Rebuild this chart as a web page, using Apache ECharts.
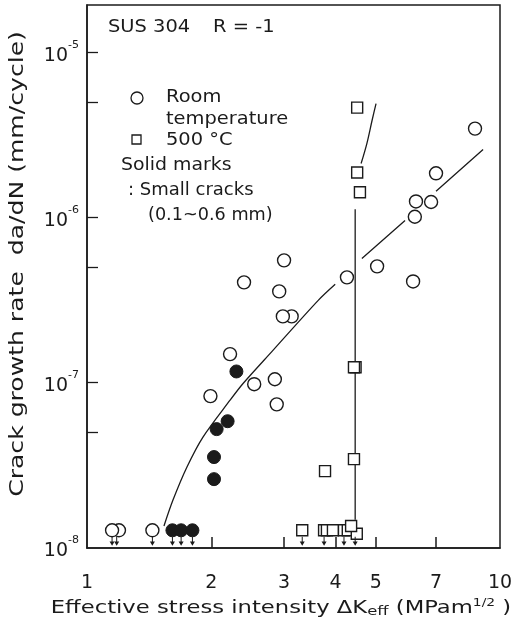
<!DOCTYPE html>
<html>
<head>
<meta charset="utf-8">
<script src="https://cdn.jsdelivr.net/npm/echarts@6/dist/echarts.min.js"></script>
<style>
  html, body { margin: 0; padding: 0; background: #fff; }
  #chart { width: 526px; height: 625px; }
</style>
</head>
<body>
<div id="chart"></div>
<script>
const FONT = '"DejaVu Sans", "Liberation Sans", sans-serif';
const INK = '#1b1b1b';

// Room temperature, open circles: [ΔKeff (MPa·m^1/2), da/dN (mm/cycle)]
const roomOpen = [
  [8.7, 3.45e-6], [7.0, 1.85e-6], [6.81, 1.24e-6], [6.26, 1.25e-6],
  [6.22, 1.01e-6], [5.04, 5.06e-7], [6.16, 4.1e-7], [4.26, 4.34e-7],
  [3.0, 5.5e-7], [2.40, 4.05e-7], [2.92, 3.57e-7], [3.13, 2.52e-7],
  [2.98, 2.52e-7], [2.22, 1.49e-7], [2.54, 9.8e-8], [2.85, 1.05e-7],
  [1.99, 8.3e-8], [2.88, 7.4e-8],
  [1.195, 1.28e-8], [1.15, 1.28e-8], [1.44, 1.28e-8]
];

// Room temperature, small cracks (solid circles)
const roomSolid = [
  [2.30, 1.17e-7], [2.19, 5.85e-8], [2.06, 5.24e-8], [2.03, 3.55e-8],
  [2.03, 2.61e-8], [1.61, 1.28e-8], [1.69, 1.28e-8], [1.80, 1.28e-8]
];

// 500 °C, open squares
const hot500 = [
  [4.51, 4.62e-6], [4.51, 1.87e-6], [4.58, 1.42e-6], [4.47, 1.24e-7],
  [4.43, 1.24e-7], [4.43, 3.45e-8], [3.77, 2.92e-8], [3.32, 1.28e-8],
  [3.75, 1.28e-8], [3.81, 1.28e-8], [3.94, 1.28e-8], [4.19, 1.28e-8],
  [4.28, 1.28e-8], [4.50, 1.22e-8], [4.36, 1.36e-8]
];

// Downward arrows below non-propagating points
const arrowX = [1.15, 1.18, 1.44, 1.61, 1.69, 1.80, 3.32, 3.75, 4.19, 4.46];
const arrowLevel = 1.1e-8;

// Fitted trends (null = gap in the drawn line)
const roomFit = [
  [1.536, 1.36e-8], [1.615, 1.95e-8], [1.746, 3.09e-8], [1.909, 4.69e-8],
  [2.22, 7.84e-8], [2.39, 9.93e-8], [2.82, 1.57e-7], [3.63, 3.15e-7],
  [3.99, 3.94e-7], null, [4.63, 5.65e-7], [5.89, 9.6e-7], null,
  [7.0, 1.44e-6], [9.1, 2.58e-6]
];
const hotFit = [
  [4.46, 1.48e-8], [4.46, 1.12e-6], null,
  [4.61, 2.12e-6], [4.76, 2.8e-6], [4.90, 3.86e-6], [5.01, 4.89e-6]
];

// Axis ticks and labels
const xLabelValues = [1, 2, 3, 4, 5, 7, 10];
const xTickValues = [2, 3, 4, 5, 7];
const yLabelValues = [1e-8, 1e-7, 1e-6, 1e-5];
const yTickValues = [5e-8, 1e-7, 5e-7, 1e-6, 5e-6, 1e-5];

const withGaps = arr => arr.map(p => (p === null ? ['-', '-'] : p));

const chart = echarts.init(document.getElementById('chart'), null, { renderer: 'canvas' });

function txt(text, x, y, opts = {}) {
  return {
    type: 'text',
    x, y,
    rotation: opts.rotation || 0,
    scaleX: opts.scaleX || 1.08,
    z: 10,
    style: {
      text,
      fill: INK,
      font: (opts.size || 18) + 'px ' + FONT,
      textAlign: opts.align || 'left',
      textVerticalAlign: 'middle',
      align: opts.align || 'left',
      verticalAlign: 'middle',
      rich: opts.rich
    }
  };
}

const subSupRich = {
  n: { fontSize: 18, fontFamily: FONT, color: INK },
  sub: { fontSize: 13, fontFamily: FONT, color: INK, padding: [8, 0, 0, 0] },
  sup: { fontSize: 11, fontFamily: FONT, color: INK, padding: [0, 0, 9, 0] }
};

chart.setOption({
  animation: false,
  backgroundColor: '#fff',
  grid: {
    left: 87, right: 26, top: 5, bottom: 77,
    show: true, borderColor: INK, borderWidth: 1.5, backgroundColor: 'transparent'
  },
  xAxis: {
    type: 'log', logBase: 10, min: 1, max: 10,
    axisLine: { show: true, lineStyle: { color: INK, width: 1.5 } },
    axisTick: { show: true, inside: true, length: 11, customValues: xTickValues,
      lineStyle: { color: INK, width: 1.5 } },
    minorTick: { show: false },
    splitLine: { show: false },
    axisLabel: { customValues: xLabelValues, margin: 26, color: INK,
      fontSize: 19, fontFamily: FONT, formatter: v => String(Math.round(v)) }
  },
  yAxis: {
    type: 'log', logBase: 10, min: 1e-8, max: 1.93e-5,
    axisLine: { show: true, lineStyle: { color: INK, width: 1.5 } },
    axisTick: { show: true, inside: true, length: 11, customValues: yTickValues,
      lineStyle: { color: INK, width: 1.3 } },
    minorTick: { show: false },
    splitLine: { show: false },
    axisLabel: {
      customValues: yLabelValues, margin: 8, color: INK,
      formatter: v => '{b|10}{s|' + Math.round(Math.log10(v)) + '}',
      rich: {
        b: { fontSize: 19, fontFamily: FONT, color: INK, lineHeight: 26, verticalAlign: 'bottom' },
        s: { fontSize: 11, fontFamily: FONT, color: INK, lineHeight: 26, verticalAlign: 'top' }
      }
    }
  },
  graphic: [
    txt('SUS 304', 108, 27),
    txt('R = -1', 213, 27),
    { type: 'circle', shape: { cx: 137, cy: 98, r: 6 }, z: 10,
      style: { fill: '#fff', stroke: INK, lineWidth: 1.3 } },
    txt('Room', 166, 97),
    txt('temperature', 166, 119),
    { type: 'rect', shape: { x: 132, y: 135, width: 9, height: 9 }, z: 10,
      style: { fill: '#fff', stroke: INK, lineWidth: 1.3 } },
    txt('500 °C', 166, 140),
    txt('Solid marks', 121, 165, { scaleX: 1.05 }),
    txt(': Small cracks', 128, 190, { scaleX: 1.0 }),
    txt('(0.1~0.6 mm)', 148, 215, { scaleX: 0.98 }),
    txt('Crack growth rate  da/dN (mm/cycle)', 18, 264, { rotation: Math.PI / 2, align: 'center', scaleX: 1.32, size: 19 }),
    txt('{n|Effective stress intensity ΔK}{sub|eff}{n| (MPam}{sup|1/2}{n| )}', 281, 608,
      { align: 'center', scaleX: 1.26, rich: subSupRich })
  ],
  series: [
    {
      type: 'line', data: withGaps(roomFit), symbol: 'none', smooth: 0.3,
      connectNulls: false, lineStyle: { color: INK, width: 1.3 }, z: 2, silent: true
    },
    {
      type: 'line', data: withGaps(hotFit), symbol: 'none', smooth: 0.3,
      connectNulls: false, lineStyle: { color: INK, width: 1.3 }, z: 2, silent: true
    },
    {
      name: 'Room temperature', type: 'scatter', data: roomOpen, symbol: 'circle', symbolSize: 13,
      itemStyle: { color: '#fff', borderColor: INK, borderWidth: 1.4, opacity: 1 }, z: 4
    },
    {
      name: 'Small cracks', type: 'scatter', data: roomSolid, symbol: 'circle', symbolSize: 13,
      itemStyle: { color: INK, borderColor: INK, borderWidth: 1, opacity: 1 }, z: 4
    },
    {
      name: '500 °C', type: 'scatter', data: hot500, symbol: 'rect', symbolSize: 11,
      itemStyle: { color: '#fff', borderColor: INK, borderWidth: 1.4, opacity: 1 }, z: 4
    },
    {
      type: 'scatter', data: arrowX.map(x => [x, arrowLevel]),
      symbol: 'path://M4,0 L6,0 L6,7 L10,7 L5,13 L0,7 L4,7 Z', symbolSize: [5, 9],
      itemStyle: { color: INK, opacity: 1 }, z: 4
    }
  ]
});
</script>
</body>
</html>
